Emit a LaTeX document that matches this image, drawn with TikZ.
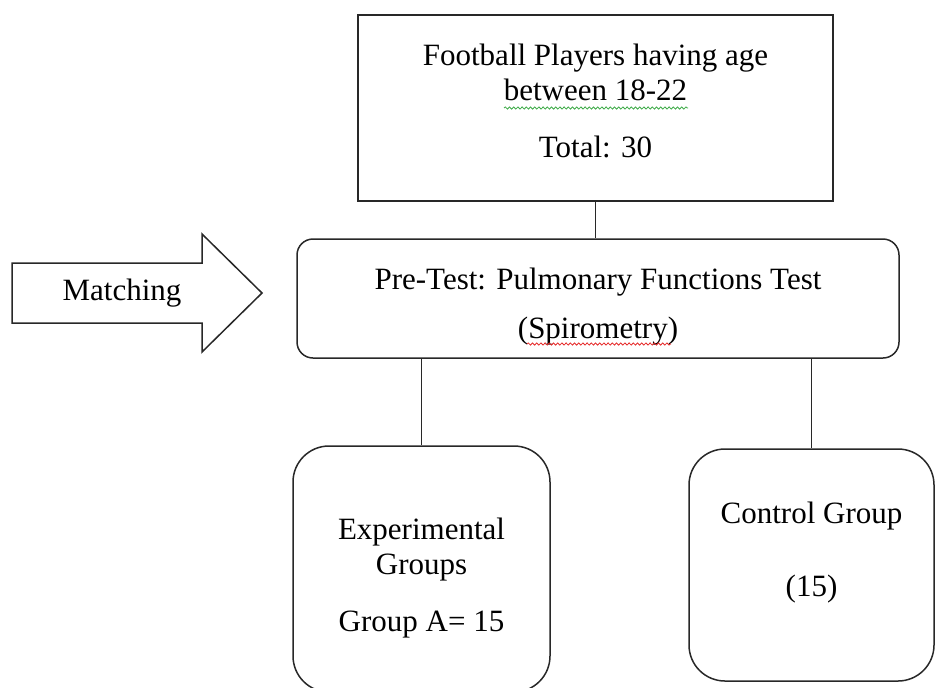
\documentclass[tikz,border=0pt]{standalone}
\usepackage{fontspec}
\setmainfont{Liberation Serif}
\usetikzlibrary{positioning, calc, decorations.pathmorphing}
\definecolor{edge}{RGB}{40,40,40}
\definecolor{spellred}{RGB}{230,40,40}
\definecolor{gramgreen}{RGB}{60,170,70}
\tikzset{
  boxsq/.style ={rectangle, draw=edge, line width=0.75pt, fill=white, inner sep=0pt},
  boxrd/.style ={boxsq, rounded corners=8pt},
  boxgrp/.style={boxsq, rounded corners=18pt},
  txt/.style   ={align=center, inner sep=0pt, font=\fontsize{15.5}{17.5}\selectfont},
  ln/.style    ={draw=edge, line width=0.75pt},
  squig/.style ={decorate, decoration={snake, amplitude=0.55pt, segment length=2.1pt}, line width=0.4pt},
}

\begin{document}
\begin{tikzpicture}[x=0.5pt, y=-0.5pt]
\useasboundingbox (0,0) rectangle (936,687);
\clip (0,0) rectangle (936,687);
\node[boxsq, minimum width=237.5pt, minimum height=93pt] (pool) at (595.5,108) {};
\node[boxrd, minimum width=301pt, minimum height=59.5pt] (pre) at (598,298.5) {};
\node[boxgrp, minimum width=128.5pt, minimum height=123pt] (exp) at (421.5,569) {};
\node[boxgrp, minimum width=122.5pt, minimum height=116pt] (ctrl) at (811.5,565) {};
\draw[ln, fill=white, line join=miter] (12,263) -- (202,263) -- (202,234) -- (262,293)
  -- (202,352) -- (202,323) -- (12,323) -- cycle;
\node[txt] (match) at (122,293) {Matching};
\node[txt] (pooltxt) at ([yshift=3.5pt]pool.center) {Football Players having age\\between 18-22\\[11pt]Total: 30};
\node[txt] (pretxt) at ([yshift=-4pt]pre.center) {Pre-Test: Pulmonary Functions Test\\[7pt](Spirometry)};
\node[txt] (exptxt) at ([yshift=-4.5pt]exp.center) {Experimental\\Groups\\[11pt]Group A= 15};
\node[txt] (ctrltxt) at ([yshift=6pt]ctrl.center) {Control Group\\[19pt](15)};
\draw[squig, gramgreen] (504,108) -- (688,108);
\draw[squig, spellred] (527,344) -- (671,344);
\draw[ln] (pool.south) -- (pool.south |- pre.north);
\draw[ln] (exp.north |- pre.south) -- (exp.north);
\draw[ln] (ctrl.north |- pre.south) -- (ctrl.north);
\end{tikzpicture}
\end{document}
